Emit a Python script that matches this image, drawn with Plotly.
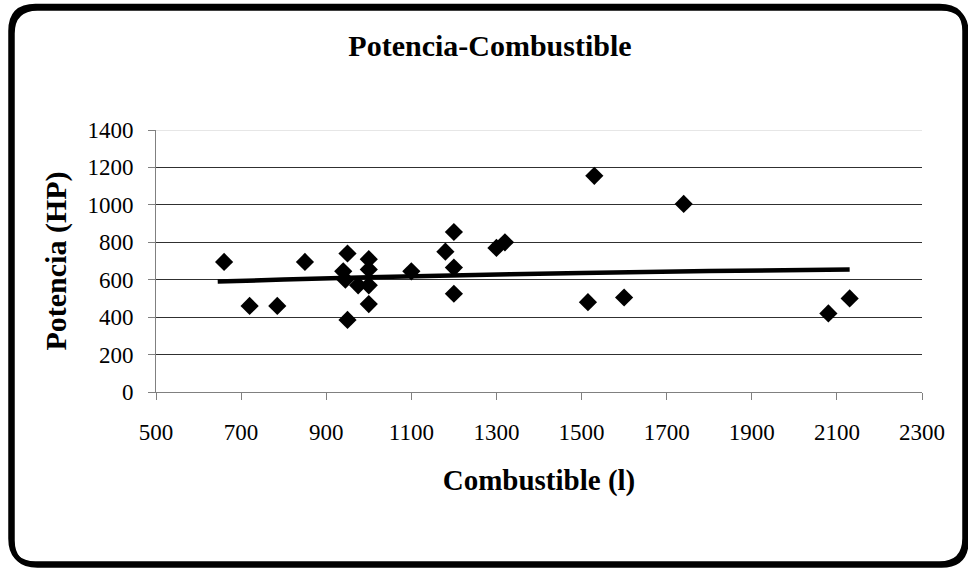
import plotly.graph_objects as go

# Data
combustible = [660, 720, 785, 850, 950, 940, 945, 950, 975, 1000, 1000, 1000, 1000,
               1100, 1180, 1200, 1200, 1200, 1300, 1320, 1530, 1740, 1515, 1600, 2080, 2130]
potencia = [695, 460, 460, 695, 740, 645, 600, 385, 570, 710, 655, 570, 470,
            645, 750, 855, 665, 525, 770, 800, 1155, 1005, 480, 505, 420, 500]

trend_x = [645, 800, 1000, 1250, 1500, 1800, 2130]
trend_y = [590, 601, 613, 625, 636, 646, 655]

x_ticks = [500, 700, 900, 1100, 1300, 1500, 1700, 1900, 2100, 2300]
y_ticks = [0, 200, 400, 600, 800, 1000, 1200, 1400]

W, H = 968, 568
ML, MR, MT, MB = 156, 46, 130, 176
PW, PH = W - ML - MR, H - MT - MB


def px(x):
    return (x - ML) / PW


def py(y):
    return (H - MB - y) / PH


def rounded(x0, y0, x1, y1, r):
    return (f"M {px(x0 + r)},{py(y0)} L {px(x1 - r)},{py(y0)} "
            f"Q {px(x1)},{py(y0)} {px(x1)},{py(y0 + r)} "
            f"L {px(x1)},{py(y1 - r)} Q {px(x1)},{py(y1)} {px(x1 - r)},{py(y1)} "
            f"L {px(x0 + r)},{py(y1)} Q {px(x0)},{py(y1)} {px(x0)},{py(y1 - r)} "
            f"L {px(x0)},{py(y0 + r)} Q {px(x0)},{py(y0)} {px(x0 + r)},{py(y0)} Z")


fig = go.Figure()
fig.add_trace(go.Scatter(x=trend_x, y=trend_y, mode="lines",
                         line=dict(color="black", width=4.5), line_shape="spline",
                         hoverinfo="skip"))
fig.add_trace(go.Scatter(x=combustible, y=potencia, mode="markers",
                         marker=dict(symbol="diamond", size=14, color="black")))

font = "Liberation Serif"
fig.update_layout(
    width=W, height=H,
    margin=dict(l=ML, r=MR, t=MT, b=MB),
    paper_bgcolor="white", plot_bgcolor="rgba(0,0,0,0)",
    showlegend=False,
    font=dict(family=font, color="black", size=23),
    title=dict(text="<b>Potencia-Combustible</b>", x=490 / W, xanchor="center",
               y=1 - 45 / H, yanchor="middle", font=dict(size=30, family=font)),
    xaxis=dict(range=[500, 2300], tickvals=x_ticks, showgrid=False, zeroline=False,
               showline=True, linecolor="#808080", linewidth=1,
               ticks="outside", ticklen=7, tickcolor="#808080",
               ticklabelstandoff=12,
               tickfont=dict(size=23, family=font),
               title=dict(text="<b>Combustible (l)</b>", font=dict(size=29, family=font),
                          standoff=26)),
    yaxis=dict(range=[0, 1400], tickvals=y_ticks, showgrid=True, gridcolor="#303030",
               gridwidth=1, zeroline=False,
               showline=True, linecolor="#808080", linewidth=1,
               ticks="outside", ticklen=7, tickcolor="#808080",
               ticklabelstandoff=10,
               tickfont=dict(size=23, family=font),
               title=dict(text="<b>Potencia (HP)</b>", font=dict(size=30, family=font),
                          standoff=11)),
    shapes=[
        dict(type="line", xref="paper", yref="y", x0=0, x1=1, y0=1400, y1=1400,
             line=dict(color="#e6e6e6", width=2), layer="above"),
        dict(type="path", xref="paper", yref="paper",
             path=rounded(12.5, 8.5, 966.5, 565.5, 25),
             line=dict(color="black", width=4.5), layer="below"),
        dict(type="path", xref="paper", yref="paper",
             path=rounded(10.5, 6, 964.5, 563.5, 25),
             line=dict(color="black", width=4.5), layer="below"),
    ],
)

fig.write_html("out.html")
